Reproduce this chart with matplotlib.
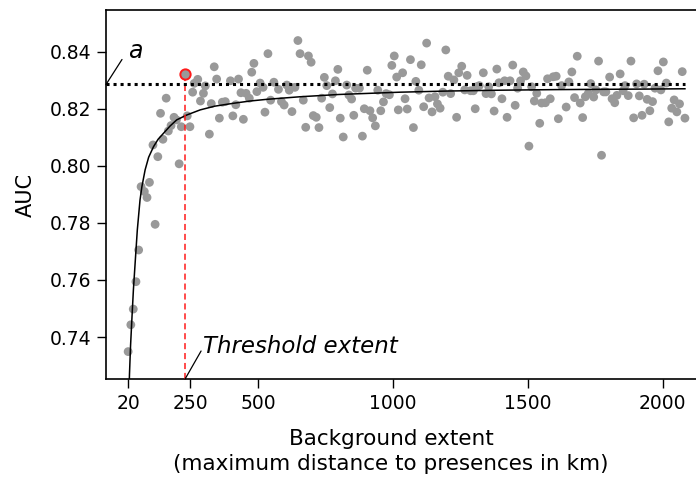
import matplotlib
matplotlib.use("Agg")
import matplotlib.pyplot as plt

# ---------------- data ----------------
bg_extent = [
    19, 29, 38, 48, 58, 67, 79, 89, 98, 111, 119, 129, 139, 148, 160, 168, 178, 189,
    198, 208, 216, 238, 248, 258, 264, 277, 287, 298, 305, 320, 327, 338, 347, 357,
    368, 379, 398, 407, 418, 428, 437, 446, 456, 468, 477, 485,
    648, 537, 656, 687, 697, 796, 905, 1005, 996, 1014, 746, 787, 508, 559, 607, 829,
    496, 519, 576, 616, 637, 755, 776, 862, 876, 944, 975, 987, 837, 847, 736, 668,
    547, 587, 597, 965, 526, 626, 766, 894, 915, 955, 1020, 705, 716, 855, 805, 925,
    677, 726, 935, 816, 887,
    1125, 1196, 1065, 1105, 1036, 1255, 1244, 1205, 1226, 1275, 1335, 1385, 1444, 1483,
    1493, 1473, 1393, 1414, 1434, 1573, 1085, 1320, 1310, 1355, 1096, 1266, 1288, 1298,
    1185, 1214, 1345, 1365, 1462, 1533, 1514, 1045, 1134, 1156, 1404, 1165, 1175, 1114,
    1053, 1145, 1305, 1375, 1453, 1524, 1551, 1565, 1236, 1423, 1076, 1544, 1504,
    1683, 1762, 1882, 2002, 1982, 2072, 1663, 1842, 1803, 1594, 1605, 1652, 1625, 1733,
    1860, 1903, 1931, 2013, 1752, 1781, 1789, 1853, 1971, 1993, 1724, 1713, 1744, 1830,
    1872, 1913, 1673, 1583, 1812, 1822, 1694, 1942, 1962, 2042, 2062, 1642, 1952, 2033,
    2052, 1613, 1703, 1892, 1923, 2022, 2082, 1773,
]
auc = [
    0.7349, 0.7443, 0.7498, 0.7594, 0.7705, 0.7927, 0.7910, 0.7889, 0.7942, 0.8073,
    0.7795, 0.8032, 0.8184, 0.8093, 0.8237, 0.8122, 0.8141, 0.8170, 0.8161, 0.8007,
    0.8137, 0.8175, 0.8137, 0.8258, 0.8289, 0.8303, 0.8227, 0.8254, 0.8280, 0.8111,
    0.8218, 0.8347, 0.8304, 0.8167, 0.8223, 0.8225, 0.8298, 0.8175, 0.8214, 0.8304,
    0.8256, 0.8163, 0.8254, 0.8237, 0.8328, 0.8359,
    0.8439, 0.8393, 0.8393, 0.8385, 0.8363, 0.8338, 0.8335, 0.8385, 0.8352, 0.8311,
    0.8310, 0.8298, 0.8290, 0.8293, 0.8283, 0.8283, 0.8260, 0.8275, 0.8268, 0.8265,
    0.8275, 0.8281, 0.8252, 0.8272, 0.8272, 0.8265, 0.8253, 0.8249, 0.8248, 0.8234,
    0.8237, 0.8230, 0.8230, 0.8225, 0.8213, 0.8224, 0.8188, 0.8190, 0.8204, 0.8200,
    0.8193, 0.8193, 0.8196, 0.8176, 0.8170, 0.8177, 0.8167, 0.8168, 0.8135, 0.8134,
    0.8140, 0.8101, 0.8104,
    0.8430, 0.8406, 0.8372, 0.8354, 0.8326, 0.8349, 0.8326, 0.8314, 0.8301, 0.8317,
    0.8326, 0.8339, 0.8353, 0.8329, 0.8315, 0.8298, 0.8291, 0.8298, 0.8298, 0.8305,
    0.8296, 0.8281, 0.8277, 0.8277, 0.8265, 0.8266, 0.8263, 0.8263, 0.8258, 0.8253,
    0.8253, 0.8252, 0.8272, 0.8254, 0.8277, 0.8235, 0.8238, 0.8242, 0.8235, 0.8217,
    0.8202, 0.8207, 0.8199, 0.8189, 0.8200, 0.8192, 0.8212, 0.8227, 0.8220, 0.8221,
    0.8170, 0.8170, 0.8134, 0.8149, 0.8069,
    0.8384, 0.8367, 0.8367, 0.8364, 0.8333, 0.8330, 0.8329, 0.8322, 0.8311, 0.8312,
    0.8314, 0.8294, 0.8281, 0.8288, 0.8281, 0.8287, 0.8286, 0.8290, 0.8266, 0.8259,
    0.8259, 0.8263, 0.8272, 0.8266, 0.8254, 0.8242, 0.8241, 0.8247, 0.8246, 0.8245,
    0.8239, 0.8235, 0.8235, 0.8221, 0.8220, 0.8233, 0.8225, 0.8231, 0.8217, 0.8206,
    0.8193, 0.8202, 0.8189, 0.8165, 0.8169, 0.8168, 0.8177, 0.8154, 0.8167, 0.8037,
]

# fitted curve
curve_x = [22, 24, 28, 33, 38.5, 45, 53, 63, 70, 82, 95, 113, 130, 150, 175, 199, 236,
           286, 340, 408, 470, 533, 656, 800, 1026, 1200, 1397, 1600, 1767, 1950, 2082]
curve_auc = [0.7200, 0.7270, 0.7370, 0.7465, 0.7565, 0.7660, 0.7775, 0.7880, 0.7927,
             0.7986, 0.8030, 0.8067, 0.8093, 0.8114, 0.8140, 0.8161, 0.8178, 0.8196,
             0.8209, 0.8219, 0.8227, 0.8233, 0.8242, 0.8250, 0.8258, 0.8262, 0.8265,
             0.8267, 0.8268, 0.8269, 0.8270]

asymptote_a = 0.8285
threshold_x = 230
threshold_auc = 0.8321

x_ticks = [20, 250, 500, 1000, 1500, 2000]
x_ticklabels = ["20", "250", "500", "1000", "1500", "2000"]
y_ticks = [0.74, 0.76, 0.78, 0.80, 0.82, 0.84]
y_ticklabels = ["0.74", "0.76", "0.78", "0.80", "0.82", "0.84"]

x_lim = (-63, 2123)
y_lim = (0.7253, 0.8546)

# ---------------- figure ----------------
plt.rcParams['font.family'] = ['DejaVu Sans']
fig = plt.figure(figsize=(6.96, 4.82), dpi=100)
ax = fig.add_axes([106 / 696, 103 / 482, 590 / 696, 369 / 482])

point_col = "#999999"
ax.scatter(bg_extent, auc, s=40, color=point_col, edgecolors='none', zorder=2)

ax.plot(curve_x, curve_auc, color='black', lw=1.1, zorder=3)
ax.plot([x_lim[0], curve_x[-1]], [asymptote_a, asymptote_a], color='black',
        lw=2.2, linestyle=(0, (1, 1.3)), zorder=4)

ax.plot([threshold_x, threshold_x], [y_lim[0], threshold_auc], color='#ff1a1a',
        lw=1.1, linestyle=(0, (4, 2.5)), zorder=3)
ax.scatter([threshold_x], [threshold_auc], s=55, color=point_col,
           edgecolors='#ff1a1a', linewidths=1.4, zorder=5)

# annotations
ax.annotate('', xy=(x_lim[0], asymptote_a), xytext=(16, 25), textcoords='offset pixels',
            arrowprops=dict(arrowstyle='-', lw=0.9, color='black', shrinkA=0, shrinkB=0),
            annotation_clip=False)
ax.annotate('a', xy=(x_lim[0], asymptote_a), xytext=(22, 26), textcoords='offset pixels',
            fontsize=17, style='italic', ha='left', va='baseline', annotation_clip=False)

ax.annotate('', xy=(threshold_x, y_lim[0]), xytext=(16, 28), textcoords='offset pixels',
            arrowprops=dict(arrowstyle='-', lw=0.9, color='black', shrinkA=0, shrinkB=0),
            annotation_clip=False)
ax.annotate('Threshold extent', xy=(threshold_x, y_lim[0]), xytext=(18, 26),
            textcoords='offset pixels', fontsize=16.5, style='italic', ha='left',
            va='baseline', annotation_clip=False)

ax.set_xlim(*x_lim)
ax.set_ylim(*y_lim)
ax.set_xticks(x_ticks)
ax.set_xticklabels(x_ticklabels)
ax.set_yticks(y_ticks)
ax.set_yticklabels(y_ticklabels)
ax.tick_params(axis='both', direction='out', length=6.5, width=1.0, labelsize=13.5, pad=4)

for side in ['left', 'bottom', 'top']:
    ax.spines[side].set_linewidth(1.2)
ax.spines['right'].set_visible(False)

ax.set_ylabel('AUC', fontsize=15, labelpad=10)
ax.set_xlabel('Background extent\n(maximum distance to presences in km)', fontsize=15.5,
              linespacing=1.3)
ax.xaxis.set_label_coords(0.483, -0.135, transform=ax.transAxes)
ax.xaxis.label.set_va('top')

fig.savefig('out.png', dpi=100)
